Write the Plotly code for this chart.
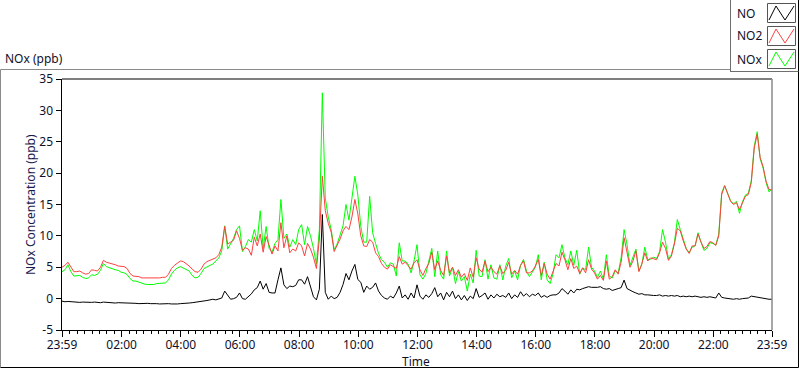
import plotly.graph_objects as go

# time in hours after the 23:59 start (6-minute readings)
hours = [i / 10 for i in range(241)]

no2 = [
    5.0, 5.3, 5.8, 5.0, 4.3, 4.3, 4.4, 4.1, 3.9, 4.0,
    4.6, 4.5, 4.4, 5.0, 6.1, 5.8, 5.7, 5.6, 5.4, 5.2,
    5.2, 5.1, 4.8, 4.0, 3.6, 3.6, 3.5, 3.3, 3.3, 3.2,
    3.2, 3.2, 3.3, 3.3, 3.4, 3.4, 3.9, 4.8, 5.3, 5.7,
    6.0, 5.9, 5.6, 5.2, 4.7, 4.3, 4.2, 4.7, 5.5, 5.9,
    6.1, 6.3, 6.5, 7.0, 8.2, 11.5, 8.7, 9.0, 9.3, 10.8,
    9.6, 7.7, 8.1, 7.9, 6.9, 9.8, 8.4, 10.3, 7.4, 9.9,
    8.3, 7.1, 8.4, 7.6, 12.1, 8.1, 10.0, 7.3, 7.9, 7.6,
    8.9, 8.4, 6.8, 8.8, 7.9, 6.6, 4.8, 9.5, 19.5, 14.0,
    12.0, 10.6, 7.5, 8.4, 9.5, 10.8, 11.5, 11.0, 13.0, 15.8,
    13.5, 10.0, 8.4, 8.3, 9.4, 9.0, 7.3, 6.7, 5.6, 5.0,
    4.7, 5.4, 5.1, 4.8, 6.7, 5.5, 5.8, 5.3, 4.7, 5.7,
    6.2, 4.6, 3.7, 4.8, 5.6, 7.4, 4.6, 6.0, 4.5, 3.7,
    6.8, 4.1, 5.0, 3.7, 4.6, 3.4, 4.0, 2.9, 4.9, 3.4,
    6.5, 4.7, 4.2, 6.0, 4.3, 5.0, 4.3, 3.9, 5.2, 4.0,
    4.5, 5.8, 3.9, 4.5, 3.9, 5.3, 6.0, 4.1, 4.1, 4.4,
    5.2, 6.25, 3.7, 5.6, 3.9, 3.1, 4.5, 5.6, 5.2, 7.4,
    6.2, 4.6, 6.4, 4.8, 5.2, 4.0, 4.9, 4.1, 6.2, 4.7,
    4.1, 3.1, 3.7, 2.9, 6.0, 3.1, 3.5, 4.6, 3.9, 5.8,
    9.7, 7.4, 5.0, 6.0, 7.6, 4.3, 5.5, 7.3, 6.0, 6.5,
    6.3, 6.2, 7.3, 9.0, 8.0, 6.1, 6.8, 8.7, 11.2, 10.8,
    9.2, 7.9, 7.2, 8.4, 8.4, 10.3, 9.0, 8.0, 8.3, 9.1,
    8.9, 8.5, 10.0, 16.6, 18.0, 16.6, 15.5, 15.0, 15.3, 14.2,
    15.2, 16.3, 16.6, 18.5, 24.0, 26.2, 22.5, 21.0, 18.7, 17.4,
    17.3,
]

nox = [
    4.3, 4.6, 5.4, 4.3, 3.6, 3.6, 3.7, 3.4, 3.2, 3.3,
    3.8, 3.7, 3.9, 4.5, 5.6, 5.1, 4.9, 4.8, 4.6, 4.5,
    4.2, 4.1, 3.85, 3.2, 2.8, 2.8, 2.6, 2.5, 2.3, 2.25,
    2.25, 2.25, 2.4, 2.4, 2.5, 2.5, 3.0, 3.9, 4.5, 4.9,
    5.1, 4.9, 4.7, 4.4, 3.7, 3.3, 3.4, 4.0, 4.8, 5.1,
    5.3, 5.5, 6.0, 6.5, 7.6, 11.6, 7.9, 8.8, 9.6, 11.0,
    11.6, 7.5, 8.3, 9.4, 9.0, 11.0, 9.2, 14.0, 8.0, 11.5,
    8.0, 7.4, 8.8, 9.4, 15.8, 9.6, 10.3, 8.2, 9.4, 8.6,
    11.0, 11.8, 8.6, 11.5, 10.0, 8.0, 5.5, 11.0, 32.8, 16.0,
    13.0, 11.0, 7.8, 8.7, 10.0, 11.6, 15.0, 12.5, 16.0, 19.5,
    16.5, 11.5, 9.0, 9.0, 16.3, 10.5, 8.8, 7.2, 6.2, 5.8,
    5.0, 5.7, 5.5, 3.6, 8.9, 6.0, 6.0, 5.5, 4.1, 6.0,
    8.6, 3.8, 3.1, 4.0, 6.0, 8.0, 3.5, 7.6, 3.8, 3.1,
    7.6, 3.6, 5.0, 2.4, 4.3, 2.8, 3.5, 1.2, 3.9, 2.5,
    7.7, 3.6, 3.5, 6.2, 3.1, 5.4, 3.3, 3.1, 5.4, 3.0,
    5.2, 6.4, 3.3, 4.4, 3.0, 5.3, 6.25, 4.4, 3.5, 4.2,
    5.0, 7.0, 3.0, 5.8, 3.0, 2.4, 4.0, 7.0, 6.5, 8.6,
    6.5, 5.4, 7.6, 5.3, 7.7, 3.9, 4.9, 4.6, 8.2, 5.0,
    4.4, 3.4, 4.4, 3.1, 7.0, 3.6, 3.3, 4.4, 4.1, 6.5,
    11.0, 8.6, 5.3, 6.6, 7.9, 4.4, 5.5, 8.2, 6.2, 6.3,
    6.6, 6.4, 7.5, 11.0, 9.0, 6.3, 7.0, 8.9, 12.6, 11.0,
    9.5, 8.0, 7.3, 8.2, 8.4, 10.5, 9.0, 7.7, 8.0, 8.9,
    8.8, 8.5, 10.3, 16.9, 18.0, 16.8, 15.6, 15.1, 15.5, 13.6,
    15.4, 16.5, 16.8, 18.8, 24.3, 26.6, 22.3, 20.8, 18.5, 17.0,
    17.5,
]

no = [
    -0.4, -0.5, -0.45, -0.5, -0.55, -0.5, -0.6, -0.55, -0.6, -0.55,
    -0.6, -0.55, -0.6, -0.65, -0.55, -0.6, -0.65, -0.6, -0.7, -0.65,
    -0.65, -0.7, -0.7, -0.75, -0.7, -0.75, -0.8, -0.75, -0.8, -0.75,
    -0.8, -0.75, -0.8, -0.85, -0.8, -0.85, -0.8, -0.85, -0.9, -0.85,
    -0.8, -0.8, -0.75, -0.7, -0.65, -0.6, -0.55, -0.5, -0.4, -0.3,
    -0.2, -0.1, -0.2, 0.0, 0.1, 1.2, 0.5, -0.1, 0.0, 0.2,
    0.9, 0.0, -0.1, 0.3, 0.75, 1.4, 1.75, 2.8, 1.5, 2.4,
    1.0, 0.9, 0.9, 3.0, 4.9, 2.2, 1.6, 2.0, 1.9, 2.1,
    3.0, 3.0, 2.3, 3.5, 2.0, 0.3, -0.2, 1.5, 13.4, 1.0,
    -0.1, 0.4, 0.0, 0.2, 1.0, 2.25, 4.0, 3.0, 4.4, 5.45,
    3.05, 2.6, 1.0, 2.0, 1.5, 1.8, 2.5, 1.2, 0.5, 0.1,
    -0.1, 0.4, 0.1, 0.9, 2.0, 0.1, 0.6, -0.1, 0.9, 0.1,
    2.2, 0.4, -0.1, 0.6, 0.2, 0.8, 1.75, 0.3, 0.9, -0.2,
    1.0, 0.3, 1.2, 0.0, 0.6, -0.2, 0.5, -0.3, 0.4, 0.0,
    1.6, 0.2, 0.5, 0.9, -0.1, 0.6, 0.1, 0.7, 0.3, 0.5,
    0.2, 0.9, 0.0, 0.6, 0.2, 1.1, 0.4, 0.8, 0.3, 0.7,
    0.5, 0.9, 0.2, 0.5, 0.2, 0.5, 0.6, 0.6, 0.9, 1.6,
    1.2, 0.7, 1.4, 0.9, 1.5, 1.4, 1.6, 1.7, 1.9, 1.8,
    1.75, 1.8, 1.9, 1.6, 1.5, 1.6, 1.3, 1.5, 1.6, 1.75,
    2.95, 1.6, 1.3, 1.1, 0.9, 0.7, 0.8, 0.6, 0.6, 0.5,
    0.5, 0.5, 0.6, 0.4, 0.5, 0.4, 0.5, 0.4, 0.5, 0.3,
    0.4, 0.3, 0.4, 0.3, 0.4, 0.3, 0.2, 0.3, 0.2, 0.3,
    0.2, 0.1, 0.9, 0.2, 0.1, 0.0, 0.0, -0.1, 0.0, -0.1,
    0.0, 0.1, 0.1, 0.4, 0.3, 0.2, 0.2, 0.1, 0.0, -0.1,
    -0.1,
]

x_tick_vals = [0, 2 + 1/60, 4 + 1/60, 6 + 1/60, 8 + 1/60, 10 + 1/60, 12 + 1/60,
               14 + 1/60, 16 + 1/60, 18 + 1/60, 20 + 1/60, 22 + 1/60, 24]
x_tick_text = ["23:59", "02:00", "04:00", "06:00", "08:00", "10:00", "12:00",
               "14:00", "16:00", "18:00", "20:00", "22:00", "23:59"]
y_tick_vals = [-5, 0, 5, 10, 15, 20, 25, 30, 35]
y_tick_text = ["-5", "0", "5", "10", "15", "20", "25", "30", "35"]

series_names = ["NO", "NO2", "NOx"]
series_colors = {"NO": "#000000", "NO2": "#ff4040", "NOx": "#00ff00"}

W, H = 800, 369
L, R, T, B = 62, 772, 79, 330
FONT = "Noto Sans"
TXT = "#10102a"


def px(x):
    return (x - L) / (R - L)


def py(y):
    return (B - y) / (B - T)


fig = go.Figure()
for name, ys in [("NOx", nox), ("NO2", no2), ("NO", no)]:
    fig.add_trace(go.Scatter(x=hours, y=ys, mode="lines", name=name,
                             line=dict(color=series_colors[name], width=1),
                             showlegend=False, hoverinfo="skip"))

shapes = []
# outer sunken frame
shapes.append(dict(type="line", xref="paper", yref="paper", x0=px(0.5), x1=px(730), y0=py(69.5), y1=py(69.5),
                   line=dict(color="#8a8a8a", width=1)))
shapes.append(dict(type="line", xref="paper", yref="paper", x0=px(0.5), x1=px(0.5), y0=py(69.5), y1=py(367.5),
                   line=dict(color="#8a8a8a", width=1)))
shapes.append(dict(type="line", xref="paper", yref="paper", x0=px(0.5), x1=px(798.5), y0=py(367.5), y1=py(367.5),
                   line=dict(color="#000000", width=1)))
shapes.append(dict(type="line", xref="paper", yref="paper", x0=px(798.5), x1=px(798.5), y0=py(0), y1=py(367.5),
                   line=dict(color="#000000", width=1)))
# plot frame: top black, right gray
shapes.append(dict(type="line", xref="paper", yref="paper", x0=0, x1=1, y0=1, y1=1,
                   line=dict(color="#000000", width=1)))
shapes.append(dict(type="line", xref="paper", yref="paper", x0=1, x1=1, y0=0, y1=1,
                   line=dict(color="#8a8a8a", width=1.5)))
# legend box
shapes.append(dict(type="line", xref="paper", yref="paper", x0=px(730.5), x1=px(730.5), y0=py(0), y1=py(72),
                   line=dict(color="#6e6e6e", width=1)))
shapes.append(dict(type="line", xref="paper", yref="paper", x0=px(730.5), x1=px(798.5), y0=py(71.5), y1=py(71.5),
                   line=dict(color="#6e6e6e", width=1)))

annotations = []
legend_rows = [13, 36, 59]
for name, yc in zip(series_names, legend_rows):
    annotations.append(dict(text=name, xref="paper", yref="paper", x=px(735), y=py(yc),
                            xanchor="left", yanchor="middle", showarrow=False,
                            font=dict(family=FONT, size=12, color=TXT)))
    top, bot = yc - 9.5, yc + 9.5
    shapes.append(dict(type="rect", xref="paper", yref="paper", x0=px(767.5), x1=px(795.5),
                       y0=py(bot), y1=py(top), line=dict(color="#555555", width=1), fillcolor="white"))
    pts = [(769, bot - 2.5), (776, top + 2.5), (785, bot - 2.5), (794, top + 2.5)]
    path = "M " + " L ".join(f"{px(a)},{py(b)}" for a, b in pts)
    shapes.append(dict(type="path", xref="paper", yref="paper", path=path,
                       line=dict(color=series_colors[name], width=1)))

annotations.append(dict(text="NOx (ppb)", xref="paper", yref="paper", x=px(3), y=py(58),
                        xanchor="left", yanchor="middle", showarrow=False,
                        font=dict(family=FONT, size=12, color=TXT)))
annotations.append(dict(text="Time", xref="paper", yref="paper", x=px(416), y=py(361.5),
                        xanchor="center", yanchor="middle", showarrow=False,
                        font=dict(family=FONT, size=12, color=TXT)))
annotations.append(dict(text="NOx Concentration (ppb)", xref="paper", yref="paper", x=px(30), y=py(205),
                        xanchor="center", yanchor="middle", showarrow=False, textangle=-90,
                        font=dict(family=FONT, size=12, color="#1a1a50")))

fig.update_layout(
    width=W, height=H,
    margin=dict(l=L, r=W - R, t=T, b=H - B),
    paper_bgcolor="white", plot_bgcolor="white",
    showlegend=False,
    hovermode=False,
    font=dict(family=FONT, size=12, color=TXT),
    shapes=shapes, annotations=annotations,
    xaxis=dict(range=[0, 24], tickmode="array", tickvals=x_tick_vals, ticktext=x_tick_text,
               ticks="outside", ticklen=6, tickcolor="black", tickwidth=1,
               ticklabelstandoff=-2,
               showline=True, linecolor="black", linewidth=1, showgrid=False, zeroline=False,
               tickfont=dict(family=FONT, size=12, color=TXT),
               minor=dict(tickmode="linear", tick0=1/60, dtick=0.25, ticks="outside", ticklen=3,
                          tickcolor="black", showgrid=False)),
    yaxis=dict(range=[-5, 35], tickmode="array", tickvals=y_tick_vals, ticktext=y_tick_text,
               ticks="outside", ticklen=5, tickcolor="black", tickwidth=1,
               showline=True, linecolor="black", linewidth=1.5, showgrid=False, zeroline=False,
               tickfont=dict(family=FONT, size=12, color=TXT)),
)

fig.write_html("out.html", config={"displayModeBar": False, "staticPlot": True},
               post_script="document.body.style.margin='0';document.body.style.overflow='hidden';")
